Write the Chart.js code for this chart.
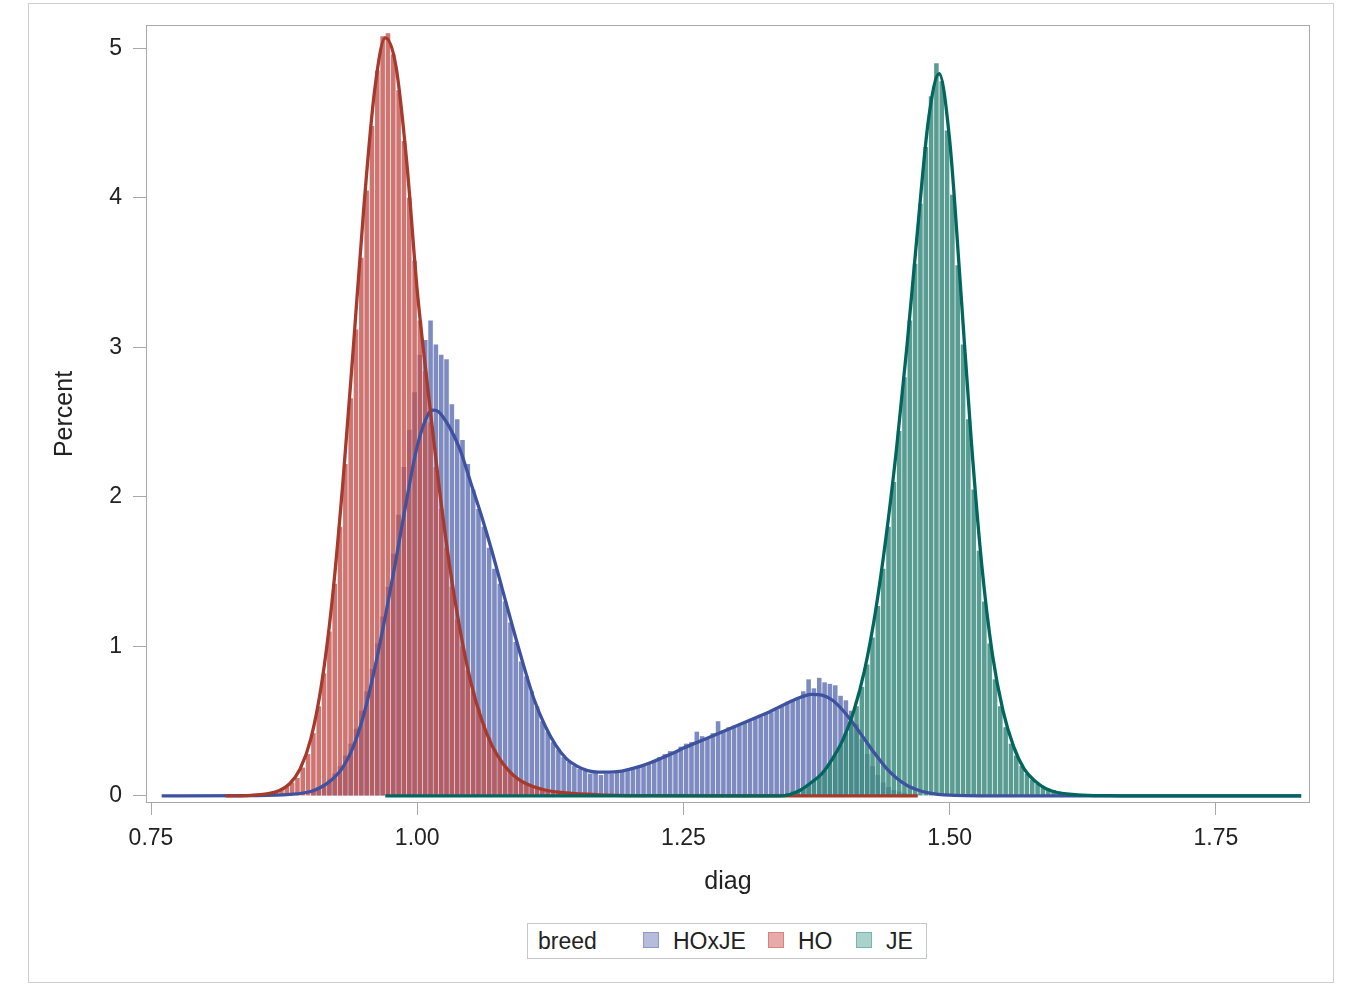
<!DOCTYPE html>
<html>
<head>
<meta charset="utf-8">
<script src="https://cdn.jsdelivr.net/npm/chart.js@4"></script>
<style>
  html, body { margin: 0; padding: 0; background: #fff; }
  body { width: 1350px; height: 999px; position: relative; overflow: hidden; font-family: "Liberation Sans", Arial, sans-serif; }
  #frame { position: absolute; left: 28px; top: 3px; width: 1304px; height: 978px; border: 1px solid #cfcfcf; }
  #wrap { position: absolute; left: 0; top: 0; width: 1350px; height: 999px; }
  #legend { position: absolute; left: 527px; top: 923px; width: 398px; height: 34px; border: 1px solid #c8c8c8; background: #fff; font-size: 23px; color: #222; }
  #legend span { position: absolute; top: 4px; line-height: 26px; }
  #legend i { position: absolute; top: 8px; width: 16px; height: 16px; box-sizing: border-box; }
</style>
</head>
<body>
<div id="frame"></div>
<div id="wrap"><canvas id="chart" width="1350" height="999"></canvas></div>
<div id="legend">
  <span style="left:10px">breed</span>
  <i style="left:115px;background:#b5bddb;border:1px solid #8d99c8"></i><span style="left:145px">HOxJE</span>
  <i style="left:240px;background:#e8aaa8;border:1px solid #d38581"></i><span style="left:270px">HO</span>
  <i style="left:328px;background:#a9d2cc;border:1px solid #7bb5ad"></i><span style="left:358px">JE</span>
</div>
<script>
// histogram bins (percent per 0.005 bin)
const binWidth = 0.005;
const xTicks = [0.75, 1.00, 1.25, 1.50, 1.75];
const yTicks = [0, 1, 2, 3, 4, 5];

const hoxjeStart = 0.900;
const hoxjeBars = [0.04,0.06,0.08,0.11,0.15,0.20,0.27,0.35,0.45,0.57,0.70,0.85,1.02,1.20,1.40,1.62,1.88,2.20,2.45,2.70,
  2.95,3.05,3.18,3.02,2.95,2.92,2.62,2.52,2.38,2.22,2.05,1.92,1.80,1.66,1.52,1.42,1.30,1.16,1.03,0.90,
  0.80,0.70,0.60,0.50,0.43,0.36,0.31,0.26,0.23,0.20,0.18,0.17,0.15,0.16,0.14,0.15,0.15,0.16,0.17,0.17,
  0.19,0.20,0.21,0.22,0.24,0.26,0.28,0.30,0.30,0.33,0.35,0.36,0.43,0.40,0.39,0.42,0.50,0.44,0.46,0.47,
  0.48,0.49,0.50,0.52,0.53,0.55,0.56,0.58,0.60,0.63,0.64,0.66,0.70,0.78,0.72,0.79,0.76,0.75,0.74,0.67,
  0.64,0.57,0.48,0.38,0.28,0.20,0.14,0.09,0.06,0.04,0.03,0.02,0.01,0.01];

const hoStart = 0.860;
const hoBars = [0.02,0.03,0.04,0.06,0.09,0.12,0.19,0.28,0.42,0.60,0.82,1.10,1.42,1.80,2.22,2.66,3.12,3.60,4.05,4.48,
  4.85,5.08,5.10,4.96,4.72,4.38,4.00,3.58,3.18,2.84,2.50,2.20,1.92,1.66,1.40,1.18,1.00,0.84,0.70,0.58,
  0.48,0.39,0.31,0.25,0.20,0.16,0.13,0.10,0.08,0.06,0.05,0.04,0.03,0.02,0.02,0.01,0.01];

const jeStart = 1.340;
const jeBars = [0.01,0.02,0.03,0.04,0.06,0.08,0.10,0.13,0.17,0.22,0.28,0.34,0.42,0.50,0.60,0.73,0.88,1.06,1.27,1.52,
  1.80,2.10,2.44,2.80,3.18,3.56,3.96,4.34,4.68,4.90,4.78,4.45,4.02,3.55,3.02,2.52,2.05,1.64,1.30,1.02,
  0.78,0.60,0.46,0.35,0.27,0.20,0.15,0.11,0.08,0.06,0.05,0.04,0.03,0.02,0.02,0.015,0.01,0.01,0.01,0.008,
  0.006,0.005];

// density curves
const hoxjeCurveX = [0.76,0.85,0.88,0.90,0.91,0.92,0.93,0.94,0.95,0.96,0.97,0.98,0.99,1.00,1.01,1.015,1.02,1.03,1.04,1.05,
  1.06,1.07,1.08,1.09,1.10,1.11,1.12,1.13,1.14,1.15,1.16,1.17,1.18,1.19,1.20,1.21,1.22,1.23,1.24,1.25,
  1.26,1.27,1.28,1.29,1.30,1.31,1.32,1.33,1.34,1.35,1.36,1.37,1.38,1.39,1.40,1.41,1.42,1.43,1.44,1.45,
  1.46,1.47,1.48,1.50,1.55,1.83];
const hoxjeCurveY = [0,0.002,0.01,0.03,0.06,0.11,0.19,0.33,0.55,0.85,1.20,1.58,1.98,2.34,2.55,2.58,2.57,2.47,2.32,2.10,
  1.88,1.64,1.38,1.12,0.87,0.64,0.47,0.34,0.25,0.20,0.17,0.16,0.16,0.165,0.18,0.20,0.225,0.255,0.285,0.32,
  0.35,0.38,0.41,0.44,0.47,0.50,0.53,0.56,0.595,0.63,0.66,0.68,0.675,0.64,0.57,0.48,0.38,0.28,0.19,0.12,
  0.07,0.04,0.02,0.005,0,0];

const hoCurveX = [0.82,0.84,0.86,0.87,0.88,0.89,0.90,0.91,0.92,0.93,0.94,0.95,0.96,0.97,0.98,0.99,1.00,1.01,1.02,
  1.03,1.04,1.05,1.06,1.07,1.08,1.09,1.10,1.12,1.14,1.17,1.22,1.30,1.47];
const hoCurveY = [0,0.003,0.015,0.035,0.08,0.18,0.38,0.74,1.30,2.08,3.00,3.95,4.72,5.07,4.88,4.25,3.38,2.72,2.10,
  1.56,1.12,0.77,0.52,0.34,0.22,0.14,0.09,0.04,0.02,0.008,0.002,0,0];

const jeCurveX = [0.97,1.34,1.35,1.36,1.37,1.38,1.39,1.40,1.41,1.42,1.43,1.44,1.45,1.46,1.47,1.48,1.49,1.50,1.51,1.52,
  1.53,1.54,1.55,1.56,1.57,1.58,1.59,1.60,1.62,1.65,1.70,1.83];
const jeCurveY = [0,0,0.01,0.04,0.09,0.15,0.25,0.38,0.57,0.84,1.22,1.72,2.32,3.02,3.80,4.52,4.83,4.38,3.42,2.40,
  1.55,0.95,0.57,0.33,0.18,0.10,0.05,0.025,0.008,0.002,0,0];

function bins(start, values) {
  return values.map((v, i) => ({ x: +(start + binWidth * (i + 0.5)).toFixed(4), y: v }));
}
function curve(xs, ys) {
  return xs.map((x, i) => ({ x: x, y: ys[i] }));
}

const barStyle = { type: 'bar', grouped: false, barPercentage: 0.86, categoryPercentage: 1, borderWidth: 0 };
const lineStyle = { type: 'line', pointRadius: 0, borderWidth: 3.3, fill: false, cubicInterpolationMode: 'monotone' };

const plotFrame = {
  id: 'plotFrame',
  afterDraw(chart) {
    const { ctx, chartArea: a } = chart;
    ctx.save();
    ctx.strokeStyle = '#a8a8a8';
    ctx.lineWidth = 1;
    ctx.strokeRect(a.left + 0.5, a.top + 0.5, a.right - a.left - 1, a.bottom - a.top - 1);
    ctx.restore();
  }
};

const font = { family: '"Liberation Sans", Arial, sans-serif' };

new Chart(document.getElementById('chart'), {
  type: 'bar',
  data: {
    datasets: [
      { ...lineStyle, label: 'JE curve', data: curve(jeCurveX, jeCurveY), borderColor: '#03665e', order: 1 },
      { ...lineStyle, label: 'HO curve', data: curve(hoCurveX, hoCurveY), borderColor: '#a53a2d', order: 2 },
      { ...lineStyle, label: 'HOxJE curve', data: curve(hoxjeCurveX, hoxjeCurveY), borderColor: '#3f52a0', order: 3 },
      { ...barStyle, label: 'JE', data: bins(jeStart, jeBars), backgroundColor: 'rgba(60,140,127,0.85)', order: 4 },
      { ...barStyle, label: 'HO', data: bins(hoStart, hoBars), backgroundColor: 'rgba(195,82,78,0.80)', order: 5 },
      { ...barStyle, label: 'HOxJE', data: bins(hoxjeStart, hoxjeBars), backgroundColor: 'rgba(98,113,178,0.82)', order: 6 }
    ]
  },
  options: {
    responsive: false,
    animation: false,
    layout: { padding: { left: 0, top: 25, right: 40, bottom: 76 } },
    plugins: { legend: { display: false }, tooltip: { enabled: false } },
    scales: {
      x: {
        type: 'linear',
        min: 0.7453,
        max: 1.8383,
        offset: false,
        afterBuildTicks: s => { s.ticks = xTicks.map(v => ({ value: v })); },
        afterFit: s => { s.height = 120; },
        grid: { display: true, drawOnChartArea: false, drawTicks: true, tickLength: 12, color: '#a8a8a8', offset: false },
        border: { display: false },
        ticks: { padding: 10, color: '#222', font: { ...font, size: 23 }, callback: v => v.toFixed(2), maxRotation: 0, autoSkip: false },
        title: { display: true, text: 'diag', color: '#222', font: { ...font, size: 25 }, padding: { top: 0, bottom: 26 } }
      },
      y: {
        type: 'linear',
        min: -0.047,
        max: 5.156,
        afterBuildTicks: s => { s.ticks = yTicks.map(v => ({ value: v })); },
        afterFit: s => { s.width = 146; },
        grid: { display: true, drawOnChartArea: false, drawTicks: true, tickLength: 13, color: '#a8a8a8' },
        border: { display: false },
        ticks: { padding: 11, color: '#222', font: { ...font, size: 23 }, callback: v => String(v) },
        title: { display: true, text: 'Percent', color: '#222', font: { ...font, size: 25 }, padding: { top: 50, bottom: 0 } }
      }
    }
  },
  plugins: [plotFrame]
});
</script>
</body>
</html>
